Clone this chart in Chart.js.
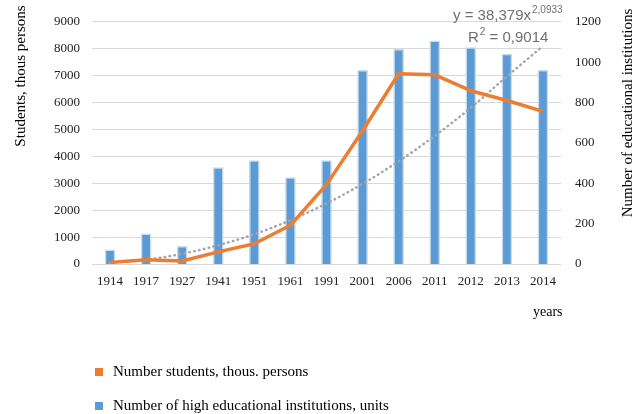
<!DOCTYPE html>
<html>
<head>
<meta charset="utf-8">
<script src="https://cdn.jsdelivr.net/npm/chart.js@4"></script>
<style>
  html, body { margin: 0; padding: 0; background: #fff; }
  #wrap { width: 644px; height: 414px; position: relative; }
</style>
</head>
<body>
<div id="wrap"><canvas id="eduChart"></canvas></div>
<script>
// data
const years = ['1914', '1917', '1927', '1941', '1951', '1961', '1991', '2001', '2006', '2011', '2012', '2013', '2014'];
const students = [60, 160, 110, 450, 750, 1440, 2950, 4950, 7070, 7030, 6440, 6075, 5670];
const institutions = [70, 150, 88, 478, 512, 428, 512, 960, 1064, 1106, 1072, 1040, 960];
const trendValues = [40, 160, 380, 700, 1110, 1630, 2250, 2980, 3820, 4760, 5810, 6970, 8100];
const studentTicks = [0, 1000, 2000, 3000, 4000, 5000, 6000, 7000, 8000, 9000];
const institutionTicks = [0, 200, 400, 600, 800, 1000, 1200];

const serif = '"Liberation Serif", "Times New Roman", serif';
const sans = '"Liberation Sans", Arial, sans-serif';

// titles, legend and trendline equation
const extras = {
    id: 'extras',
    afterDraw(chart) {
        const ctx = chart.ctx;
        ctx.save();
        ctx.fillStyle = '#000';
        ctx.font = '15px ' + serif;
        ctx.textAlign = 'center';
        ctx.textBaseline = 'middle';

        ctx.save();
        ctx.translate(21, 76);
        ctx.rotate(-Math.PI / 2);
        ctx.fillText('Students, thous persons', 0, 0);
        ctx.restore();

        ctx.save();
        ctx.translate(628, 113);
        ctx.rotate(-Math.PI / 2);
        ctx.fillText('Number of educational institutions', 0, 0);
        ctx.restore();

        ctx.font = '14px ' + serif;
        ctx.textAlign = 'left';
        ctx.fillText('years', 533, 312);

        // legend
        ctx.font = '15px ' + serif;
        ctx.fillStyle = '#ed7d31';
        ctx.fillRect(95, 368, 8, 8);
        ctx.fillStyle = '#000';
        ctx.fillText('Number students, thous. persons', 113, 372);
        ctx.fillStyle = '#5b9bd5';
        ctx.fillRect(95, 402, 8, 8);
        ctx.fillStyle = '#000';
        ctx.fillText('Number of high educational institutions, units', 113, 406);

        // trendline equation
        ctx.fillStyle = '#707070';
        ctx.textBaseline = 'alphabetic';
        ctx.font = '15px ' + sans;
        let x = 453;
        ctx.fillText('y = 38,379x', x, 20);
        x += ctx.measureText('y = 38,379x').width;
        ctx.font = '10px ' + sans;
        ctx.fillText('2,0933', x + 1, 13);

        x = 468;
        ctx.font = '15px ' + sans;
        ctx.fillText('R', x, 42);
        x += ctx.measureText('R').width;
        ctx.font = '10px ' + sans;
        ctx.fillText('2', x + 1, 35);
        x += ctx.measureText('2').width + 1;
        ctx.font = '15px ' + sans;
        ctx.fillText(' = 0,9014', x, 42);
        ctx.restore();
    }
};

new Chart(document.getElementById('eduChart'), {
    data: {
        labels: years,
        datasets: [{
            type: 'line',
            label: 'Number students, thous. persons',
            data: students,
            yAxisID: 'y',
            borderColor: '#ed7d31',
            borderWidth: 3.5,
            borderJoinStyle: 'round',
            pointRadius: 0,
            tension: 0,
            order: 1
        }, {
            type: 'line',
            label: 'Trend',
            data: trendValues,
            yAxisID: 'y',
            borderColor: '#a5a5a5',
            borderWidth: 2.5,
            borderDash: [0.5, 4.5],
            borderCapStyle: 'round',
            pointRadius: 0,
            tension: 0.4,
            order: 2
        }, {
            type: 'bar',
            label: 'Number of high educational institutions, units',
            data: institutions,
            yAxisID: 'y1',
            backgroundColor: '#5b9bd5',
            borderColor: '#c5dcf0',
            borderWidth: 1.5,
            barThickness: 10,
            order: 3
        }]
    },
    options: {
        responsive: true,
        maintainAspectRatio: false,
        animation: false,
        layout: { padding: { top: 17, left: 0, right: 0, bottom: 0 } },
        plugins: {
            legend: { display: false },
            tooltip: { enabled: false }
        },
        scales: {
            x: {
                grid: { display: false, drawTicks: false },
                border: { display: false },
                ticks: { padding: 10, color: '#222', font: { family: serif, size: 13 }, maxRotation: 0 },
                afterFit: s => { s.height = 150; }
            },
            y: {
                position: 'left',
                min: 0,
                max: 9000,
                afterBuildTicks: s => { s.ticks = studentTicks.map(v => ({ value: v })); },
                grid: { color: '#d9d9d9', drawTicks: false },
                border: { display: false },
                ticks: { padding: 12, color: '#222', font: { family: serif, size: 13 }, callback: v => String(v) },
                afterFit: s => { s.width = 92; }
            },
            y1: {
                position: 'right',
                min: 0,
                max: 1200,
                afterBuildTicks: s => { s.ticks = institutionTicks.map(v => ({ value: v })); },
                grid: { display: false, drawTicks: false },
                border: { display: false },
                ticks: { padding: 14, color: '#222', font: { family: serif, size: 13 }, callback: v => String(v) },
                afterFit: s => { s.width = 83; }
            }
        }
    },
    plugins: [extras]
});
</script>
</body>
</html>
